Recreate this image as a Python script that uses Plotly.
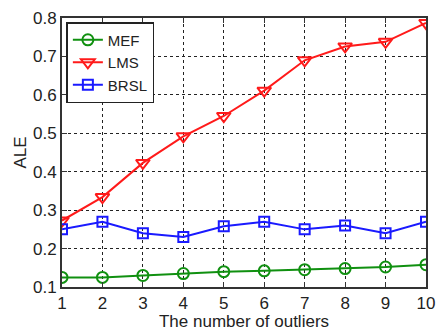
import plotly.graph_objects as go

x_vals = [1, 2, 3, 4, 5, 6, 7, 8, 9, 10]
mef = [0.125, 0.125, 0.130, 0.135, 0.140, 0.142, 0.145, 0.148, 0.152, 0.158]
lms = [0.273, 0.334, 0.423, 0.492, 0.545, 0.611, 0.690, 0.726, 0.738, 0.787]
brsl = [0.250, 0.270, 0.240, 0.230, 0.258, 0.270, 0.250, 0.260, 0.240, 0.270]
y_ticks = [0.1, 0.2, 0.3, 0.4, 0.5, 0.6, 0.7, 0.8]

FONT = "Liberation Sans, Arial"
fig = go.Figure()
fig.add_trace(go.Scatter(x=x_vals, y=mef, name="MEF", mode="lines+markers",
                         line=dict(color="#109010", width=2),
                         marker=dict(symbol="circle-open", size=11, color="#109010", line=dict(width=2))))
fig.add_trace(go.Scatter(x=x_vals, y=lms, name="LMS", mode="lines+markers",
                         line=dict(color="#ff1a1a", width=2),
                         marker=dict(symbol="triangle-down-open", size=12, color="#ff1a1a", line=dict(width=2))))
fig.add_trace(go.Scatter(x=x_vals, y=brsl, name="BRSL", mode="lines+markers",
                         line=dict(color="#1a1aff", width=2),
                         marker=dict(symbol="square-open", size=10, color="#1a1aff", line=dict(width=2))))

axis_common = dict(showline=True, linecolor="#333333", linewidth=2, mirror="ticks",
                   ticks="inside", ticklen=5, tickcolor="#333333",
                   showgrid=True, gridcolor="#222222", gridwidth=1, griddash="dot",
                   zeroline=False, ticklabeloverflow="allow",
                   tickfont=dict(family=FONT, size=17, color="#222222"))

fig.update_xaxes(range=[1, 10], tickvals=x_vals, ticktext=[str(v) for v in x_vals],
                 title=dict(text="The number of outliers", standoff=0,
                            font=dict(family=FONT, size=17, color="#222222")),
                 **axis_common)
fig.update_yaxes(range=[0.1, 0.8], tickvals=y_ticks,
                 ticktext=[f"{v:.1f}" for v in y_ticks],
                 title=dict(text="ALE", standoff=2,
                            font=dict(family=FONT, size=17, color="#222222")),
                 **axis_common)

fig.update_layout(width=441, height=331,
                  margin=dict(l=62, r=6, t=18, b=38),
                  paper_bgcolor="white", plot_bgcolor="white",
                  showlegend=True,
                  legend=dict(x=0.012, y=0.985, xanchor="left", yanchor="top",
                              bgcolor="white", bordercolor="#222222", borderwidth=1.5,
                              font=dict(family=FONT, size=15, color="#222222"),
                              itemwidth=30, tracegroupgap=0))

fig.write_html("out.html")
